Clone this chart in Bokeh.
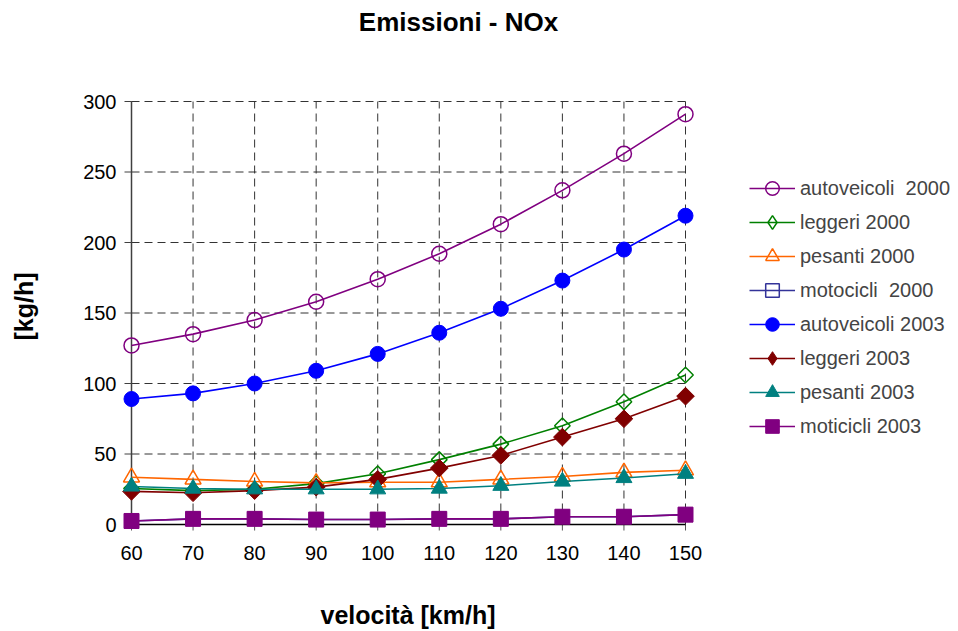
import math
from bokeh.plotting import figure
from bokeh.models import Range1d, FixedTicker, Label, Legend, LegendItem, Title
from bokeh.embed import file_html
from bokeh.resources import INLINE

# ---------------- data ----------------
speeds = [60, 70, 80, 90, 100, 110, 120, 130, 140, 150]
y_ticks = [0, 50, 100, 150, 200, 250, 300]

autoveicoli_2000 = [127, 135, 145, 158, 174, 192, 213, 237, 263, 291]
leggeri_2000 = [25.5, 24, 25, 29, 36, 46, 57, 70, 87, 106]
pesanti_2000 = [33.5, 32, 30.5, 29.5, 30, 30, 32, 34, 37, 38.5]
motocicli_2000 = [2.5, 4, 4, 3.5, 3.5, 4, 4, 5.5, 5.5, 7]
autoveicoli_2003 = [89, 93, 100, 109, 121, 136, 153, 173, 195, 219]
leggeri_2003 = [23.5, 22.5, 24, 26.5, 32, 40, 49, 62, 75, 91]
pesanti_2003 = [27, 25.5, 25, 25, 25, 25.5, 27.5, 30.5, 33, 36]
moticicli_2003 = [2.5, 4, 4, 3.5, 3.5, 4, 4, 5.5, 5.5, 7]

labels = ["autoveicoli  2000", "leggeri 2000", "pesanti 2000", "motocicli  2000",
          "autoveicoli 2003", "leggeri 2003", "pesanti 2003", "moticicli 2003"]
series = [autoveicoli_2000, leggeri_2000, pesanti_2000, motocicli_2000,
          autoveicoli_2003, leggeri_2003, pesanti_2003, moticicli_2003]
colors = ["#800080", "#008000", "#FF6600", "#333399",
          "#0000FF", "#800000", "#008080", "#800080"]
markers = ["circle", "square", "triangle", "square",
           "circle", "square", "triangle", "square"]
legend_markers = ["circle", "diamond", "triangle", "square",
                  "circle", "diamond", "triangle", "square"]
hollow = [True, True, True, True, False, False, False, False]
sizes = [15, 11, 16, 13, 15, 12.5, 16, 15]
angles = [0, math.pi / 4, 0, 0, 0, math.pi / 4, 0, 0]

# ---------------- layout ----------------
FONT = "Liberation Sans"
W, H = 958, 631
X0_PX, X1_PX = 131, 685        # pixel columns of first / last speed
Y0_PX, Y1_PX = 524, 101        # pixel rows of 0 / 300
LEFT = 121                     # frame left edge (y tick labels live left of it)
BOTTOM = 534                   # frame bottom edge (x tick labels below it)
FRAME_W, FRAME_H = W - LEFT, BOTTOM

xmin, xmax = speeds[0], speeds[-1]
ymin, ymax = y_ticks[0], y_ticks[-1]
ux = (xmax - xmin) / (X1_PX - X0_PX)     # data units per px
uy = (ymax - ymin) / (Y0_PX - Y1_PX)

p = figure(frame_width=FRAME_W, frame_height=FRAME_H,
           min_border_left=LEFT, min_border_right=0,
           min_border_top=0, min_border_bottom=H - BOTTOM,
           x_range=Range1d(xmin - (X0_PX - LEFT) * ux, xmax + (W - X1_PX) * ux),
           y_range=Range1d(ymin - (BOTTOM - Y0_PX) * uy, ymax + Y1_PX * uy),
           output_backend="svg", toolbar_location=None)
try:
    p.title = None
except Exception:
    p.title.visible = False
p.outline_line_color = None
p.grid.visible = False
p.background_fill_color = "white"
p.border_fill_color = "white"

# grid (dashed) from tick lists
grid_kw = dict(line_color="#333333", line_width=1, line_dash="8 5")
p.segment(x0=speeds, y0=[ymin] * len(speeds), x1=speeds, y1=[ymax] * len(speeds), **grid_kw)
p.segment(x0=[xmin] * len(y_ticks), y0=y_ticks, x1=[xmax] * len(y_ticks), y1=y_ticks, **grid_kw)

# tick marks and axis lines at the data origin
p.segment(x0=speeds, y0=[ymin] * len(speeds), x1=speeds, y1=[ymin - 6 * uy] * len(speeds),
          line_color="#555555", line_width=1)
p.segment(x0=[xmin] * len(y_ticks), y0=y_ticks, x1=[xmin - 7 * ux] * len(y_ticks), y1=y_ticks,
          line_color="#404040", line_width=1)
p.segment(x0=[xmin], y0=[ymin], x1=[xmin], y1=[ymax], line_color="#404040", line_width=1.5)
p.segment(x0=[xmin], y0=[ymin], x1=[xmax], y1=[ymin], line_color="black", line_width=1.5)


def style_axis(ax, ticks, standoff, gap):
    ax.ticker = FixedTicker(ticks=ticks)
    ax.axis_line_color = None
    ax.major_tick_line_color = None
    ax.minor_tick_line_color = None
    ax.major_tick_out = 0
    ax.major_tick_in = 0
    ax.major_label_text_font = FONT
    ax.major_label_text_font_size = "20px"
    ax.major_label_text_color = "black"
    ax.major_label_standoff = standoff
    # blank axis label: only reserves the gap before the axis title
    ax.axis_label = " "
    ax.axis_label_text_font_size = "10px"
    ax.axis_label_text_alpha = 0
    ax.axis_label_standoff = gap


style_axis(p.xaxis[0], speeds, 11, 22)
style_axis(p.yaxis[0], y_ticks, 5, 29)


def side_title(text, offset):
    t = Title(text=text, align="left", offset=offset, text_font=FONT,
              text_font_style="bold", text_font_size="25px", text_color="black")
    if "standoff" in Title.properties():
        t.standoff = 0
    return t


p.add_layout(side_title("velocità [km/h]", 320 - LEFT), "below")
p.add_layout(side_title("[kg/h]", BOTTOM - 340), "left")

# series
items = []
for lab, ys, col, mk, lmk, hol, sz, ang in zip(labels, series, colors, markers, legend_markers,
                                                hollow, sizes, angles):
    fill = None if hol else col
    lw = 1.5 if hol else 1
    lr = p.line(speeds, ys, line_color=col, line_width=1.6)
    sr = p.scatter(speeds, ys, marker=mk, size=sz, angle=ang, line_color=col,
                   line_width=lw, fill_color=fill)
    if lmk != mk:
        # legend swatch only (no points drawn in the plot)
        sr = p.scatter([float("nan")], [float("nan")], marker=lmk, line_color=col,
                       line_width=lw, fill_color=fill)
    items.append(LegendItem(label=lab, renderers=[lr, sr]))

legend = Legend(items=items, location=(749 - LEFT, BOTTOM - 443),
                glyph_width=46, glyph_height=34, label_height=34, spacing=0,
                label_standoff=5, padding=0, margin=0,
                label_text_font=FONT, label_text_font_size="20px",
                label_text_baseline="middle",
                border_line_alpha=0, background_fill_alpha=0)
p.add_layout(legend, "center")

# chart title
p.add_layout(Label(x=458 - LEFT, y=BOTTOM - 21, x_units="screen", y_units="screen",
                   text="Emissioni - NOx", text_align="center", text_baseline="alphabetic",
                   text_font=FONT, text_font_style="bold", text_font_size="26px",
                   text_color="black"))

open("out.html", "w").write(file_html(p, INLINE))
